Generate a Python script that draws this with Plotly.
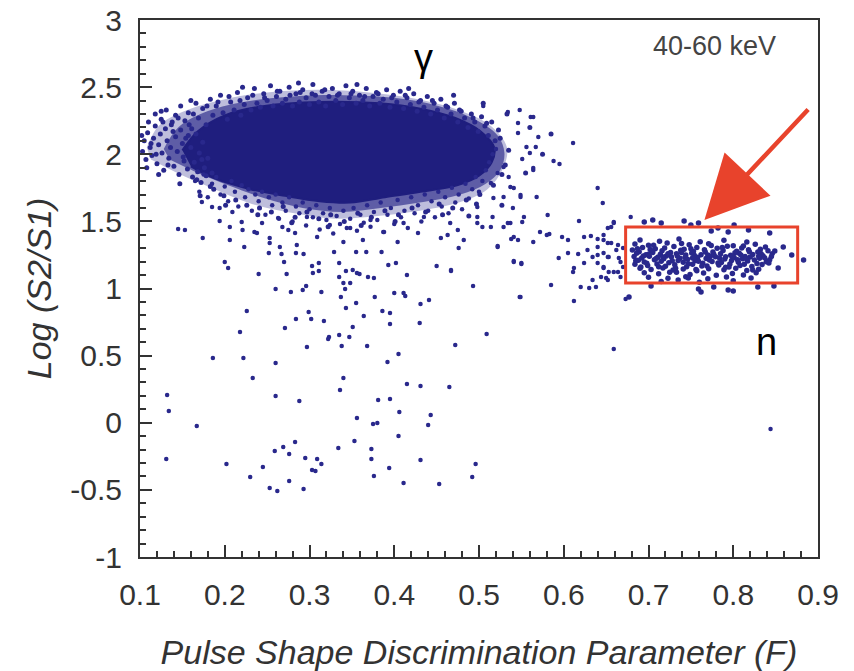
import plotly.graph_objects as go

# ---------------- data ----------------
x_tick_vals = [0.1, 0.2, 0.3, 0.4, 0.5, 0.6, 0.7, 0.8, 0.9]
x_tick_text = ["0.1", "0.2", "0.3", "0.4", "0.5", "0.6", "0.7", "0.8", "0.9"]
y_tick_vals = [-1, -0.5, 0, 0.5, 1, 1.5, 2, 2.5, 3]
y_tick_text = ["-1", "-0.5", "0", "0.5", "1", "1.5", "2", "2.5", "3"]

# outline of the saturated (solid) part of the gamma band
gamma_core_x = [0.150, 0.168, 0.200, 0.247, 0.312, 0.383, 0.431, 0.472, 0.502, 0.518, 0.515,
                0.500, 0.475, 0.431, 0.389, 0.348, 0.312, 0.271, 0.230, 0.188, 0.160]
gamma_core_y = [2.03, 2.17, 2.29, 2.36, 2.39, 2.38, 2.34, 2.27, 2.17, 2.05, 1.94,
                1.84, 1.77, 1.72, 1.68, 1.64, 1.65, 1.69, 1.74, 1.82, 1.91]
# outline of the densely speckled inner rim
gamma_mid_x = [0.128, 0.145, 0.175, 0.222, 0.280, 0.340, 0.400, 0.452, 0.492, 0.522, 0.530,
               0.525, 0.508, 0.478, 0.430, 0.384, 0.338, 0.292, 0.248, 0.204, 0.165, 0.135]
gamma_mid_y = [2.04, 2.20, 2.31, 2.39, 2.43, 2.44, 2.42, 2.36, 2.27, 2.14, 2.01,
               1.88, 1.78, 1.70, 1.64, 1.60, 1.57, 1.60, 1.67, 1.77, 1.87, 1.96]
# outline of the sparsely speckled outer rim
gamma_rim_x = [0.108, 0.122, 0.152, 0.200, 0.250, 0.310, 0.370, 0.428, 0.476, 0.514, 0.533,
               0.528, 0.510, 0.476, 0.430, 0.380, 0.330, 0.282, 0.232, 0.184, 0.144, 0.113]
gamma_rim_y = [2.05, 2.21, 2.32, 2.41, 2.46, 2.48, 2.46, 2.41, 2.33, 2.21, 2.05,
               1.89, 1.74, 1.64, 1.58, 1.54, 1.52, 1.56, 1.63, 1.75, 1.86, 1.96]

# gamma band: speckled edge events
gamma_top = [
    (0.118, 2.30), (0.125, 2.26), (0.131, 2.33), (0.137, 2.22), (0.142, 2.29), (0.148, 2.36),
    (0.153, 2.25), (0.157, 2.31), (0.161, 2.19), (0.166, 2.38), (0.169, 2.27), (0.174, 2.34),
    (0.178, 2.22), (0.183, 2.41), (0.186, 2.29), (0.190, 2.36), (0.195, 2.44), (0.198, 2.31),
    (0.203, 2.26), (0.207, 2.39), (0.211, 2.33), (0.215, 2.46), (0.219, 2.29), (0.223, 2.37),
    (0.227, 2.42), (0.231, 2.33), (0.235, 2.49), (0.238, 2.38), (0.242, 2.35), (0.246, 2.45),
    (0.250, 2.40), (0.254, 2.51), (0.257, 2.36), (0.261, 2.43), (0.265, 2.47), (0.268, 2.38),
    (0.272, 2.41), (0.276, 2.50), (0.280, 2.36), (0.284, 2.45), (0.288, 2.39), (0.292, 2.48),
    (0.296, 2.42), (0.300, 2.37), (0.304, 2.52), (0.307, 2.44), (0.311, 2.39), (0.315, 2.47),
    (0.319, 2.36), (0.323, 2.43), (0.327, 2.49), (0.331, 2.40), (0.335, 2.45), (0.339, 2.37),
    (0.343, 2.51), (0.347, 2.42), (0.351, 2.47), (0.355, 2.38), (0.359, 2.44), (0.363, 2.40),
    (0.367, 2.49), (0.371, 2.36), (0.375, 2.43), (0.379, 2.46), (0.383, 2.38), (0.387, 2.41),
    (0.391, 2.48), (0.395, 2.35), (0.399, 2.44), (0.403, 2.39), (0.407, 2.47), (0.411, 2.34),
    (0.415, 2.42), (0.419, 2.37), (0.423, 2.45), (0.427, 2.32), (0.431, 2.40), (0.435, 2.35),
    (0.439, 2.43), (0.443, 2.30), (0.447, 2.38), (0.451, 2.33), (0.455, 2.41), (0.459, 2.27),
    (0.463, 2.35), (0.467, 2.30), (0.471, 2.38), (0.475, 2.24), (0.479, 2.32), (0.483, 2.27),
    (0.487, 2.20), (0.491, 2.30), (0.495, 2.24), (0.499, 2.17), (0.503, 2.28), (0.507, 2.21),
    (0.511, 2.14), (0.515, 2.24), (0.519, 2.10), (0.523, 2.18),
]
gamma_left = [
    (0.103, 2.02), (0.105, 2.10), (0.107, 1.96), (0.109, 2.16), (0.112, 2.05), (0.114, 1.99),
    (0.116, 2.12), (0.118, 2.21), (0.120, 1.93), (0.122, 2.07), (0.124, 2.15), (0.126, 2.01),
    (0.128, 1.88), (0.130, 2.19), (0.132, 2.10), (0.134, 1.97), (0.136, 2.05), (0.138, 2.24),
    (0.140, 1.91), (0.142, 2.13), (0.144, 2.02), (0.146, 1.85), (0.148, 2.18), (0.150, 2.08),
    (0.152, 1.95), (0.154, 2.12), (0.156, 1.89), (0.158, 2.22), (0.160, 2.05), (0.162, 1.83),
    (0.164, 1.94), (0.166, 2.15), (0.168, 1.87), (0.170, 2.01), (0.172, 1.79), (0.174, 2.09),
    (0.176, 1.90), (0.178, 1.84), (0.180, 1.97), (0.183, 1.76), (0.185, 1.86),
]
gamma_bottom = [
    (0.165, 1.80), (0.170, 1.72), (0.175, 1.85), (0.180, 1.68), (0.185, 1.78), (0.190, 1.83),
    (0.195, 1.70), (0.200, 1.76), (0.204, 1.65), (0.208, 1.80), (0.212, 1.72), (0.216, 1.61),
    (0.220, 1.77), (0.224, 1.68), (0.228, 1.74), (0.232, 1.58), (0.236, 1.70), (0.240, 1.65),
    (0.244, 1.72), (0.248, 1.55), (0.252, 1.68), (0.256, 1.62), (0.260, 1.70), (0.264, 1.52),
    (0.268, 1.64), (0.272, 1.58), (0.276, 1.68), (0.280, 1.50), (0.284, 1.61), (0.288, 1.56),
    (0.292, 1.64), (0.296, 1.47), (0.300, 1.59), (0.304, 1.53), (0.308, 1.62), (0.312, 1.44),
    (0.316, 1.56), (0.320, 1.51), (0.324, 1.60), (0.328, 1.41), (0.332, 1.54), (0.336, 1.48),
    (0.340, 1.58), (0.344, 1.45), (0.348, 1.52), (0.352, 1.60), (0.356, 1.43), (0.360, 1.55),
    (0.364, 1.49), (0.368, 1.62), (0.372, 1.46), (0.376, 1.57), (0.380, 1.51), (0.384, 1.64),
    (0.388, 1.42), (0.392, 1.55), (0.396, 1.60), (0.400, 1.48), (0.404, 1.66), (0.408, 1.53),
    (0.412, 1.58), (0.416, 1.45), (0.420, 1.68), (0.424, 1.56), (0.428, 1.62), (0.432, 1.50),
    (0.436, 1.70), (0.440, 1.58), (0.444, 1.65), (0.448, 1.53), (0.452, 1.72), (0.456, 1.61),
    (0.460, 1.68), (0.464, 1.56), (0.468, 1.75), (0.472, 1.64), (0.476, 1.70), (0.480, 1.59),
    (0.484, 1.78), (0.488, 1.67), (0.492, 1.74), (0.496, 1.83), (0.500, 1.72), (0.504, 1.80),
    (0.508, 1.88), (0.512, 1.94), (0.516, 2.00), (0.520, 2.04),
    (0.145, 1.443), (0.153, 1.436), (0.174, 1.376), (0.194, 1.503), (0.206, 1.458),
    (0.206, 1.361), (0.223, 1.309), (0.221, 1.436), (0.253, 1.376), (0.265, 1.309),
    (0.275, 1.436), (0.173, 1.644), (0.185, 1.607), (0.194, 1.600), (0.209, 1.570),
    (0.220, 1.495), (0.235, 1.421), (0.244, 1.488), (0.263, 1.525), (0.238, 1.413),
    (0.253, 1.339), (0.268, 1.458), (0.283, 1.413), (0.285, 1.324), (0.297, 1.533),
    (0.309, 1.384), (0.324, 1.473), (0.340, 1.346), (0.348, 1.451), (0.363, 1.361),
    (0.372, 1.510), (0.387, 1.421), (0.404, 1.346), (0.411, 1.488), (0.428, 1.413),
    (0.435, 1.533), (0.455, 1.376), (0.466, 1.488), (0.482, 1.361), (0.498, 1.533),
    (0.514, 1.458), (0.522, 1.309), (0.534, 1.488), (0.541, 1.384), (0.553, 1.533),
    (0.564, 1.346), (0.549, 1.682), (0.537, 1.756), (0.564, 1.883), (0.561, 2.277),
]
gamma_extra = [
    (0.113, 2.08), (0.119, 2.00), (0.127, 2.24), (0.133, 1.92), (0.139, 2.17), (0.145, 2.27),
    (0.151, 1.98), (0.157, 2.14), (0.163, 2.30), (0.167, 1.81), (0.173, 1.96), (0.179, 2.36),
    (0.187, 1.74), (0.192, 2.39), (0.199, 1.69), (0.205, 2.43), (0.213, 1.66), (0.218, 2.40),
    (0.226, 1.62), (0.233, 2.44), (0.241, 1.60), (0.247, 2.42), (0.255, 1.57), (0.262, 2.47),
    (0.269, 1.61), (0.277, 2.44), (0.283, 1.53), (0.289, 2.46), (0.297, 1.57), (0.303, 2.45),
    (0.311, 1.52), (0.318, 2.48), (0.325, 1.55), (0.333, 2.44), (0.341, 1.50), (0.349, 2.45),
    (0.357, 1.56), (0.365, 2.43), (0.373, 1.53), (0.381, 2.45), (0.389, 1.58), (0.397, 2.42),
    (0.405, 1.55), (0.413, 2.44), (0.421, 1.60), (0.429, 2.39), (0.437, 1.57), (0.445, 2.40),
    (0.453, 1.63), (0.461, 2.36), (0.469, 1.60), (0.477, 2.33), (0.485, 1.66), (0.493, 2.27),
    (0.501, 1.70), (0.509, 2.23), (0.517, 1.77), (0.525, 2.12), (0.531, 1.92), (0.535, 2.03),
    (0.527, 1.85), (0.497, 1.63), (0.457, 1.55), (0.401, 1.50), (0.361, 1.47), (0.322, 1.46),
    (0.279, 1.49), (0.239, 1.55), (0.201, 1.62), (0.171, 1.69), (0.147, 1.78), (0.122, 1.85),
    (0.108, 1.90), (0.102, 2.14), (0.110, 2.24), (0.125, 2.32), (0.160, 2.40), (0.221, 2.50),
    (0.287, 2.53), (0.356, 2.52), (0.417, 2.49), (0.470, 2.44), (0.505, 2.38), (0.533, 2.30),
    (0.560, 2.20), (0.575, 2.00), (0.555, 1.86), (0.585, 2.15), (0.527, 1.62), (0.488, 1.54),
]
gamma_right = [
    (0.570, 2.128), (0.567, 2.054), (0.560, 2.009), (0.551, 1.965), (0.535, 1.831),
    (0.564, 2.277), (0.548, 2.330), (0.534, 2.315), (0.546, 2.233), (0.505, 2.359),
    (0.541, 1.749), (0.549, 1.696), (0.540, 1.600), (0.529, 1.682), (0.516, 1.533),
    (0.529, 1.458), (0.537, 1.488), (0.551, 1.495), (0.498, 1.488), (0.504, 1.458),
    (0.514, 1.786), (0.517, 1.674), (0.546, 2.158), (0.556, 2.054), (0.529, 1.905),
    (0.522, 1.860), (0.498, 1.607), (0.475, 1.436), (0.463, 1.398),
]

# sparse events below the gamma band
tail_pts = [
    (0.200, 1.197), (0.204, 1.153), (0.240, 1.108), (0.252, 1.264), (0.267, 1.257), (0.270, 1.197),
    (0.284, 1.264), (0.293, 1.257), (0.273, 1.108), (0.303, 1.168), (0.311, 1.190), (0.304, 1.115),
    (0.311, 1.130), (0.260, 0.996), (0.278, 0.974), (0.292, 0.989), (0.296, 1.019), (0.314, 0.974),
    (0.329, 1.272), (0.335, 1.190), (0.343, 1.130), (0.335, 1.086), (0.351, 1.138), (0.356, 1.115),
    (0.359, 1.108), (0.340, 1.041), (0.348, 1.041), (0.342, 0.996), (0.337, 0.937), (0.355, 1.272),
    (0.367, 1.272), (0.385, 1.272), (0.369, 1.086), (0.376, 1.078), (0.393, 1.175), (0.402, 1.190),
    (0.415, 1.101), (0.377, 0.937), (0.400, 0.966), (0.411, 0.966), (0.413, 0.944), (0.431, 0.885),
    (0.441, 0.914), (0.450, 1.168), (0.467, 1.130), (0.493, 1.019), (0.541, 1.205), (0.550, 1.182),
    (0.548, 0.937), (0.226, 0.832), (0.218, 0.676), (0.271, 0.706), (0.284, 0.773), (0.299, 0.825),
    (0.302, 0.773), (0.317, 0.758), (0.343, 0.855), (0.355, 0.892), (0.364, 0.795), (0.386, 0.832),
    (0.395, 0.817), (0.395, 0.735), (0.430, 0.743), (0.351, 0.713), (0.335, 0.654), (0.323, 0.639),
    (0.322, 0.624), (0.347, 0.639), (0.297, 0.564), (0.338, 0.572), (0.368, 0.572), (0.405, 0.512),
    (0.392, 0.452), (0.472, 0.579), (0.509, 0.661), (0.186, 0.482), (0.222, 0.482), (0.260, 0.445),
    (0.233, 0.333), (0.340, 0.333), (0.336, 0.244), (0.415, 0.289), (0.431, 0.274), (0.465, 0.266),
    (0.132, 0.207), (0.134, 0.087), (0.167, -0.024), (0.260, 0.199), (0.288, 0.162), (0.381, 0.169),
    (0.395, 0.177), (0.406, 0.080), (0.443, 0.058), (0.356, 0.035), (0.375, -0.009), (0.380, -0.002),
    (0.440, -0.017), (0.405, -0.099), (0.353, -0.136), (0.334, -0.188), (0.373, -0.196), (0.373, -0.270),
    (0.283, -0.143), (0.269, -0.181), (0.259, -0.210), (0.276, -0.233), (0.295, -0.263), (0.309, -0.270),
    (0.314, -0.307), (0.303, -0.352), (0.307, -0.359), (0.131, -0.270), (0.202, -0.307), (0.245, -0.330),
    (0.230, -0.404), (0.276, -0.434), (0.253, -0.486), (0.262, -0.508), (0.293, -0.494), (0.376, -0.397),
    (0.394, -0.337), (0.411, -0.449), (0.431, -0.278), (0.453, -0.456), (0.492, -0.404), (0.496, -0.307),
    (0.844, -0.047), (0.659, 0.549),
]

# events between the two bands
mid_pts = [
    (0.611, 2.084), (0.588, 1.950), (0.595, 1.927), (0.564, 1.898), (0.640, 1.749), (0.646, 1.637),
    (0.568, 1.682), (0.581, 1.547), (0.618, 1.503), (0.659, 1.495), (0.679, 1.533), (0.572, 1.421),
    (0.580, 1.398), (0.583, 1.406), (0.598, 1.384), (0.605, 1.361), (0.624, 1.384), (0.632, 1.391),
    (0.640, 1.369), (0.647, 1.398), (0.656, 1.458), (0.659, 1.488), (0.652, 1.339), (0.664, 1.324),
    (0.670, 1.302), (0.628, 1.287), (0.640, 1.309), (0.605, 1.264), (0.617, 1.257), (0.594, 1.227),
    (0.634, 1.235), (0.640, 1.250), (0.647, 1.264), (0.653, 1.235), (0.640, 1.190), (0.624, 1.190),
    (0.612, 1.153), (0.611, 1.123), (0.647, 1.153), (0.653, 1.123), (0.664, 1.123), (0.667, 1.197),
    (0.644, 1.086), (0.650, 1.078), (0.634, 1.063), (0.620, 1.011), (0.630, 1.004), (0.638, 1.011),
    (0.585, 1.026), (0.549, 0.937), (0.612, 0.907), (0.673, 0.922), (0.467, 1.138), (0.541, 1.197),
    (0.550, 1.190), (0.522, 1.317), (0.476, 1.302), (0.538, 1.369), (0.546, 1.361),
    (0.652, 1.451), (0.647, 1.361), (0.656, 1.339), (0.662, 1.287), (0.652, 1.235), (0.665, 1.227),
    (0.647, 1.160), (0.659, 1.123), (0.667, 1.086), (0.652, 1.063), (0.670, 1.160),
]

# neutron band (inside and around the red box)
neutron_pts = [
    (0.690, 1.362), (0.713, 1.352), (0.736, 1.368), (0.761, 1.349), (0.789, 1.360), (0.816, 1.346),
    (0.684, 1.331), (0.700, 1.322), (0.722, 1.338), (0.748, 1.326), (0.771, 1.334), (0.800, 1.318),
    (0.826, 1.329), (0.838, 1.310), (0.693, 1.305), (0.708, 1.297), (0.730, 1.312), (0.742, 1.292),
    (0.757, 1.306), (0.781, 1.299), (0.793, 1.314), (0.810, 1.301), (0.832, 1.293), (0.681, 1.287),
    (0.689, 1.274), (0.702, 1.291), (0.716, 1.281), (0.726, 1.268), (0.738, 1.285), (0.753, 1.276),
    (0.766, 1.289), (0.776, 1.271), (0.788, 1.283), (0.804, 1.277), (0.818, 1.288), (0.829, 1.272),
    (0.841, 1.281), (0.686, 1.262), (0.697, 1.252), (0.705, 1.268), (0.714, 1.256), (0.721, 1.243),
    (0.733, 1.259), (0.744, 1.249), (0.751, 1.264), (0.762, 1.252), (0.773, 1.241), (0.785, 1.258),
    (0.797, 1.247), (0.807, 1.262), (0.814, 1.238), (0.823, 1.253), (0.835, 1.244), (0.846, 1.259),
    (0.683, 1.238), (0.692, 1.228), (0.701, 1.241), (0.711, 1.232), (0.718, 1.222), (0.727, 1.236),
    (0.737, 1.226), (0.746, 1.217), (0.758, 1.233), (0.768, 1.224), (0.779, 1.236), (0.790, 1.219),
    (0.801, 1.230), (0.811, 1.221), (0.820, 1.234), (0.831, 1.226), (0.843, 1.215), (0.688, 1.211),
    (0.695, 1.198), (0.707, 1.214), (0.715, 1.203), (0.724, 1.192), (0.735, 1.209), (0.741, 1.196),
    (0.755, 1.206), (0.764, 1.189), (0.775, 1.202), (0.786, 1.193), (0.798, 1.208), (0.806, 1.195),
    (0.817, 1.204), (0.828, 1.187), (0.839, 1.199), (0.684, 1.180), (0.699, 1.171), (0.710, 1.183),
    (0.720, 1.166), (0.731, 1.177), (0.745, 1.162), (0.752, 1.181), (0.769, 1.168), (0.783, 1.175),
    (0.795, 1.160), (0.808, 1.172), (0.822, 1.163), (0.834, 1.178), (0.690, 1.150), (0.703, 1.141),
    (0.717, 1.153), (0.729, 1.137), (0.741, 1.146), (0.757, 1.132), (0.771, 1.148), (0.789, 1.139),
    (0.803, 1.151), (0.816, 1.134), (0.830, 1.144), (0.695, 1.118), (0.712, 1.109), (0.733, 1.121),
    (0.749, 1.104), (0.765, 1.115), (0.780, 1.098), (0.799, 1.112), (0.812, 1.101), (0.827, 1.117),
    (0.700, 1.083), (0.723, 1.076), (0.744, 1.088), (0.770, 1.072), (0.792, 1.085), (0.821, 1.079),
    (0.715, 1.052), (0.760, 1.046), (0.800, 1.058),
    (0.695, 1.495), (0.705, 1.510), (0.715, 1.488), (0.742, 1.503), (0.750, 1.473), (0.759, 1.488),
    (0.774, 1.428), (0.782, 1.451), (0.794, 1.421), (0.818, 1.436), (0.843, 1.413), (0.801, 1.473),
    (0.703, 1.019), (0.735, 1.063), (0.762, 0.974), (0.759, 0.996), (0.777, 1.011), (0.794, 0.989),
    (0.800, 0.981), (0.829, 1.011), (0.848, 1.019), (0.677, 0.937), (0.747, 1.078),
    (0.859, 1.309), (0.869, 1.250), (0.883, 1.212), (0.853, 1.153),
]
neutron_extra = [
    (0.687, 1.296), (0.694, 1.243), (0.698, 1.189), (0.704, 1.279), (0.709, 1.224), (0.712, 1.162),
    (0.719, 1.301), (0.723, 1.259), (0.728, 1.207), (0.732, 1.151), (0.739, 1.269), (0.743, 1.231),
    (0.747, 1.184), (0.750, 1.296), (0.754, 1.247), (0.759, 1.203), (0.763, 1.168), (0.767, 1.271),
    (0.772, 1.213), (0.777, 1.256), (0.782, 1.190), (0.787, 1.305), (0.791, 1.237), (0.796, 1.183),
    (0.802, 1.266), (0.805, 1.214), (0.809, 1.249), (0.813, 1.180), (0.819, 1.273), (0.825, 1.212),
    (0.833, 1.258), (0.837, 1.229), (0.842, 1.190), (0.685, 1.207), (0.691, 1.160), (0.706, 1.323),
    (0.725, 1.121), (0.739, 1.335), (0.756, 1.142), (0.774, 1.320), (0.791, 1.158), (0.812, 1.317),
    (0.823, 1.137), (0.845, 1.238), (0.849, 1.280), (0.700, 1.255), (0.717, 1.235), (0.734, 1.243),
    (0.752, 1.228), (0.770, 1.250), (0.784, 1.226), (0.799, 1.240), (0.815, 1.226), (0.830, 1.240),
]

# annotation values
box_x = [0.673, 0.876]
box_y = [1.041, 1.458]
arrow_tail = (0.890, 2.344)
arrow_tip = (0.766, 1.510)

# ---------------- figure ----------------
DOT = "#29288c"
CORE = "#1f1e7e"
RED = "#e8432c"
FONT = "Liberation Sans, Arial, sans-serif"

fig = go.Figure()
for ox, oy, fc in [(gamma_rim_x, gamma_rim_y, "rgba(41,40,140,0.30)"),
                   (gamma_mid_x, gamma_mid_y, "rgba(35,34,132,0.62)")]:
    fig.add_trace(go.Scatter(x=ox, y=oy, mode="lines", fill="toself", fillcolor=fc,
                             line=dict(width=0, shape="spline"), hoverinfo="skip", showlegend=False))
fig.add_trace(go.Scatter(x=gamma_core_x, y=gamma_core_y, mode="lines", fill="toself",
                         fillcolor=CORE, line=dict(color=CORE, width=2, shape="spline"),
                         hoverinfo="skip", showlegend=False))

groups = [(gamma_top, 5), (gamma_left, 5), (gamma_bottom, 4.5), (gamma_extra, 5), (gamma_right, 4.5),
          (tail_pts, 4.5), (mid_pts, 4.5), (neutron_pts, 5.5), (neutron_extra, 5.5)]
for pts, sz in groups:
    fig.add_trace(go.Scatter(x=[p[0] for p in pts], y=[p[1] for p in pts], mode="markers",
                             marker=dict(color=DOT, size=sz, line=dict(width=0)),
                             showlegend=False))

fig.add_shape(type="rect", xref="x", yref="y", x0=box_x[0], x1=box_x[1], y0=box_y[0], y1=box_y[1],
              line=dict(color=RED, width=3))

fig.add_annotation(x=arrow_tip[0], y=arrow_tip[1], ax=arrow_tail[0], ay=arrow_tail[1],
                   xref="x", yref="y", axref="x", ayref="y", text="", showarrow=True,
                   arrowhead=2, arrowsize=2.8, arrowwidth=4.5, arrowcolor=RED)

fig.add_annotation(x=0.853, y=2.81, xref="x", yref="y", text="40-60 keV", showarrow=False,
                   xanchor="right", yanchor="middle",
                   font=dict(family=FONT, size=27, color="#444444"))
fig.add_annotation(x=0.434, y=2.72, xref="x", yref="y", text="γ", showarrow=False,
                   font=dict(family=FONT, size=38, color="#000000"))
fig.add_annotation(x=0.839, y=0.60, xref="x", yref="y", text="n", showarrow=False,
                   font=dict(family=FONT, size=38, color="#000000"))

tickfont = dict(family=FONT, size=30, color="#333333")
titlefont = dict(family=FONT, size=34, color="#333333")

fig.update_xaxes(range=[0.1, 0.9], tickvals=x_tick_vals, ticktext=x_tick_text,
                 ticks="inside", ticklen=12, tickwidth=2, tickcolor="#333333",
                 minor=dict(ticks="inside", ticklen=6, tickwidth=1.5, dtick=0.02, tick0=0.1,
                            tickcolor="#333333"),
                 showline=True, linecolor="#333333", linewidth=2, mirror=True, automargin=False,
                 showgrid=False, zeroline=False, tickfont=tickfont, ticklabelstandoff=10,
                 title=dict(text="<i>Pulse Shape Discrimination Parameter (F)</i>", font=titlefont,
                            standoff=30))
fig.update_yaxes(range=[-1, 3], tickvals=y_tick_vals, ticktext=y_tick_text,
                 ticks="inside", ticklen=12, tickwidth=2, tickcolor="#333333",
                 minor=dict(ticks="inside", ticklen=6, tickwidth=1.5, dtick=0.1, tick0=0,
                            tickcolor="#333333"),
                 showline=True, linecolor="#333333", linewidth=2, mirror=True, automargin=False,
                 showgrid=False, zeroline=False, tickfont=tickfont, ticklabelstandoff=10,
                 title=dict(text="<i>Log (S2/S1)</i>", font=titlefont, standoff=8))

fig.update_layout(width=854, height=671, margin=dict(l=140, r=36, t=20, b=114),
                  plot_bgcolor="white", paper_bgcolor="white")

fig.write_html("out.html")
